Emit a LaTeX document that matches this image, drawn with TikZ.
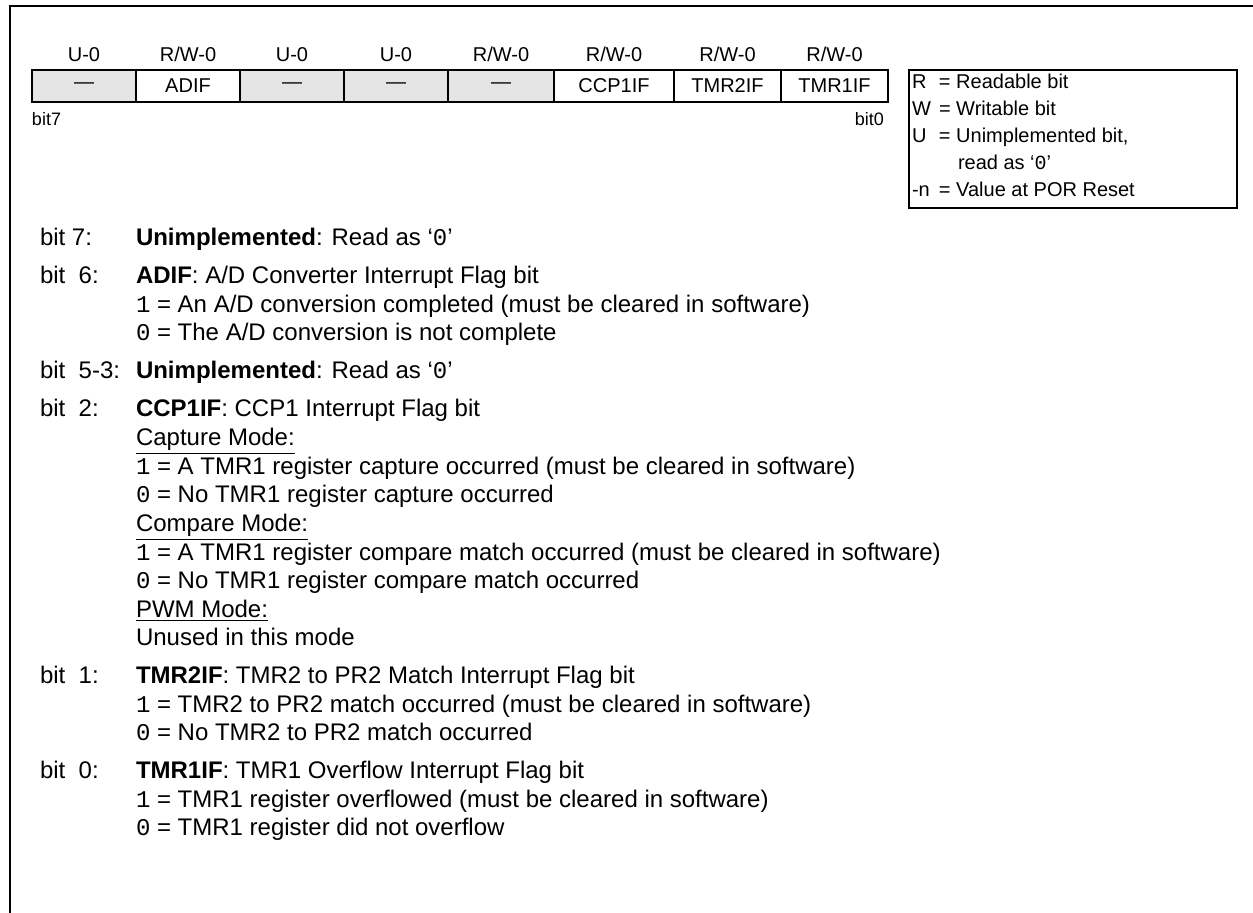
\documentclass[tikz,border=0pt]{standalone}
\usepackage{fontspec}
\setmainfont{Liberation Sans}
\setmonofont{Liberation Mono}
\usetikzlibrary{positioning}

\definecolor{unimpl}{gray}{0.9}
\newcommand{\rw}{R/W-0}
\newcommand{\zero}{`\texttt{0}'}
\newenvironment{bitdesc}{\begin{tabular}[t]{@{}p{48pt}@{}l@{}}}{\end{tabular}}

\begin{document}
\begin{tikzpicture}[x=0.5pt,y=-0.5pt,
        every node/.append style={inner sep=0pt,outer sep=0pt,font=\fontsize{10}{14}\selectfont},
        regcell/.style={draw,line width=1pt,minimum height=16pt},
        desc/.style={font=\fontsize{12}{14.25}\selectfont},
        bitgroup/.style={desc,below=4.75pt of #1.south west,anchor=north west}
    ]
    \useasboundingbox (0,0) rectangle (1253,913);

    % frame
    \coordinate (tr) at (1253,6);
    \coordinate (tl) at (10,6);
    \coordinate (bl) at (10,913);
    \draw[line width=1pt] (tr) -- (tl) -- (bl);

    % register bits 7..0
    \foreach \xa/\xb/\n/\txt/\acc/\fc in {32/136/7/---/U-0/unimpl,136/240/6/ADIF/\rw/white,
            240/344/5/---/U-0/unimpl,344/448/4/---/U-0/unimpl,448/554/3/---/\rw/unimpl,
            554/674/2/CCP1IF/\rw/white,674/781/1/TMR2IF/\rw/white,781/888/0/TMR1IF/\rw/white}{
        \pgfmathsetmacro\w{(\xb-\xa)*0.5}
        \node[regcell,fill=\fc,minimum width=\w pt] (b\n) at ({(\xa+\xb)/2},86) {\txt};
        \node[above=4pt of b\n] (r\n) {\acc};
    }
    \node[below=5pt of b7.south west,anchor=north west,font=\fontsize{9}{10}\selectfont] (msb) {bit7};
    \node[below=5pt of b0.south east,anchor=north east,xshift=-2pt,font=\fontsize{9}{10}\selectfont] (lsb) {bit0};

    % legend
    \node[draw,line width=1pt,anchor=north west,minimum width=164pt,minimum height=69pt] (key) at (909,70) {};
    \node[anchor=north west] (keytext) at ([shift={(1.5pt,0pt)}]key.north west) {\fontsize{10}{13.5}\selectfont
        \begin{tabular}{@{}l@{}}
            \makebox[13.5pt][l]{R}= Readable bit\\
            \makebox[13.5pt][l]{W}= Writable bit\\
            \makebox[13.5pt][l]{U}= Unimplemented bit,\\
            \hspace{23pt}read as \zero\\
            \makebox[13.5pt][l]{-n}= Value at POR Reset
        \end{tabular}};

    % bit descriptions
    \node[desc,anchor=base west] (g7) at (40,246) {\begin{bitdesc}
        bit 7: & \textbf{Unimplemented}: Read as \zero
    \end{bitdesc}};
    \node[bitgroup=g7] (g6) {\begin{bitdesc}
        bit~~6: & \textbf{ADIF}: A/D Converter Interrupt Flag bit\\
        & \texttt{1} = An A/D conversion completed (must be cleared in software)\\
        & \texttt{0} = The A/D conversion is not complete
    \end{bitdesc}};
    \node[bitgroup=g6] (g53) {\begin{bitdesc}
        bit~~5-3: & \textbf{Unimplemented}: Read as \zero
    \end{bitdesc}};
    \node[bitgroup=g53] (g2) {\begin{bitdesc}
        bit~~2: & \textbf{CCP1IF}: CCP1 Interrupt Flag bit\\
        & \underline{Capture Mode:}\\
        & \texttt{1} = A TMR1 register capture occurred (must be cleared in software)\\
        & \texttt{0} = No TMR1 register capture occurred\\
        & \underline{Compare Mode:}\\
        & \texttt{1} = A TMR1 register compare match occurred (must be cleared in software)\\
        & \texttt{0} = No TMR1 register compare match occurred\\
        & \underline{PWM Mode:}\\
        & Unused in this mode
    \end{bitdesc}};
    \node[bitgroup=g2] (g1) {\begin{bitdesc}
        bit~~1: & \textbf{TMR2IF}: TMR2 to PR2 Match Interrupt Flag bit\\
        & \texttt{1} = TMR2 to PR2 match occurred (must be cleared in software)\\
        & \texttt{0} = No TMR2 to PR2 match occurred
    \end{bitdesc}};
    \node[bitgroup=g1] (g0) {\begin{bitdesc}
        bit~~0: & \textbf{TMR1IF}: TMR1 Overflow Interrupt Flag bit\\
        & \texttt{1} = TMR1 register overflowed (must be cleared in software)\\
        & \texttt{0} = TMR1 register did not overflow
    \end{bitdesc}};
\end{tikzpicture}
\end{document}
